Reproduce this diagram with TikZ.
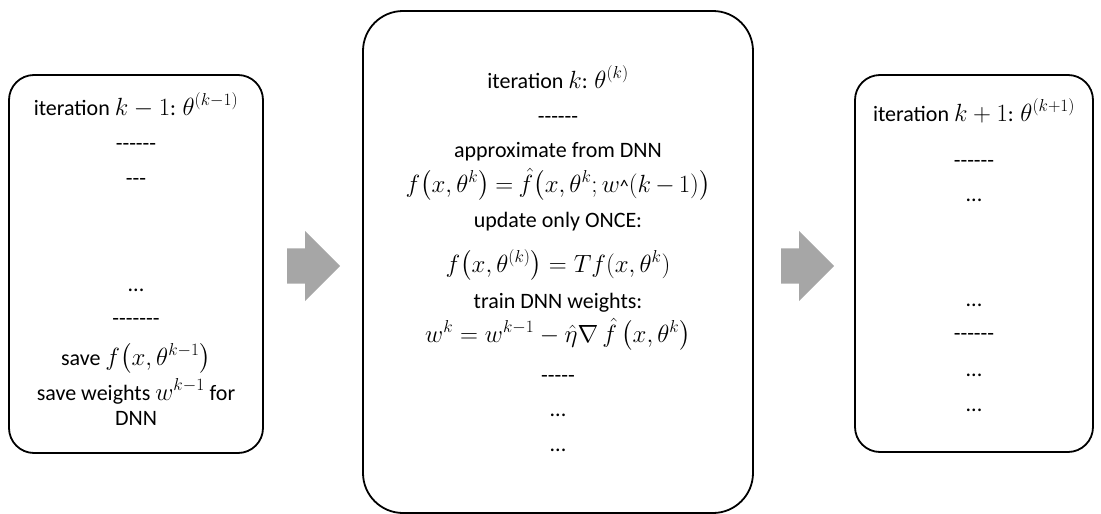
\documentclass[tikz,border=0pt]{standalone}
\usepackage{amsmath}
\usepackage{fontspec}
\setmainfont{Carlito}[Ligatures=TeXOff]
\DeclareMathSizes{23}{23}{17}{12.5}
\newcommand\mth[1]{{\fontsize{23}{27}\selectfont$#1$}}
\usetikzlibrary{shapes.arrows}
\tikzset{
  box/.style={draw=black, line width=1.8pt, fill=white, inner sep=0pt},
  txt/.style={inner sep=0pt, text height=14pt, text depth=4pt, font=\fontsize{22}{26}\selectfont, align=center},
  blockarrow/.style={single arrow, fill={rgb,255:red,166;green,166;blue,166}, draw=none,
    minimum height=53pt, minimum width=70pt, single arrow head extend=17.5pt,
    single arrow head indent=0pt, inner xsep=0pt, inner ysep=17.5pt, anchor=tail}
}
\begin{document}
\begin{tikzpicture}[x=1pt,y=-1pt]
\useasboundingbox (0,0) rectangle (1101,514);
% boxes
\node[box, rounded corners=25pt, minimum width=254pt, minimum height=378pt] (left) at (136,264) {};
\node[box, rounded corners=40pt, minimum width=390pt, minimum height=502pt] (mid) at (558,262) {};
\node[box, rounded corners=25pt, minimum width=238pt, minimum height=377pt] (right) at (974,263.5) {};
% arrows
\node[blockarrow] (a1) at (287,266) {};
\node[blockarrow] (a2) at (781,266) {};
% left texts
\node[txt] (l1) at (136,110) {iteration \mth{k-1}: \mth{\theta^{(k-1)}}};
\node[txt] (l2) at (136,145) {------};
\node[txt] (l3) at (136,180) {---};
\node[txt] (l4) at (136,286) {...};
\node[txt] (l5) at (136,320) {-------};
\node[txt] (l6) at (136,360) {save \mth{f\big(x,\theta^{k-1}\big)}};
\node[txt] (l7) at (136,395) {save weights \mth{w^{k-1}} for};
\node[txt] (l8) at (136,420) {DNN};
% middle texts
\node[txt] (m1) at (558,83) {iteration \mth{k}: \mth{\theta^{(k)}}};
\node[txt] (m2) at (558,118) {------};
\node[txt] (m3) at (558,152) {approximate from DNN};
\node[txt] (m4) at (558,187) {\fontsize{23}{27}\selectfont\thickmuskip=4mu\medmuskip=3mu$f\big(x,\theta^{k}\big)=\hat{f}\big(x,\theta^{k};w\mbox{\fontsize{18}{20}\selectfont\textasciicircum}(k-1)\big)$};
\node[txt] (m5) at (558,222) {update only ONCE:};
\node[txt] (m6) at (558,267) {\mth{f\big(x,\theta^{(k)}\big)=Tf(x,\theta^{k})}};
\node[txt] (m7) at (558,303) {train DNN weights:};
\node[txt] (m8) at (558,337) {\mth{w^{k}=w^{k-1}-\hat{\eta}\nabla\,\hat{f}\,\big(x,\theta^{k}\big)}};
\node[txt] (m9) at (558,377) {-----};
\node[txt] (m10) at (558,411) {...};
\node[txt] (m11) at (558,446) {...};
% right texts
\node[txt] (r1) at (974,116) {iteration \mth{k+1}: \mth{\theta^{(k+1)}}};
\node[txt] (r2) at (974,162) {------};
\node[txt] (r3) at (974,196) {...};
\node[txt] (r4) at (974,301) {...};
\node[txt] (r5) at (974,335) {------};
\node[txt] (r6) at (974,371) {...};
\node[txt] (r7) at (974,406) {...};
\end{tikzpicture}
\end{document}
